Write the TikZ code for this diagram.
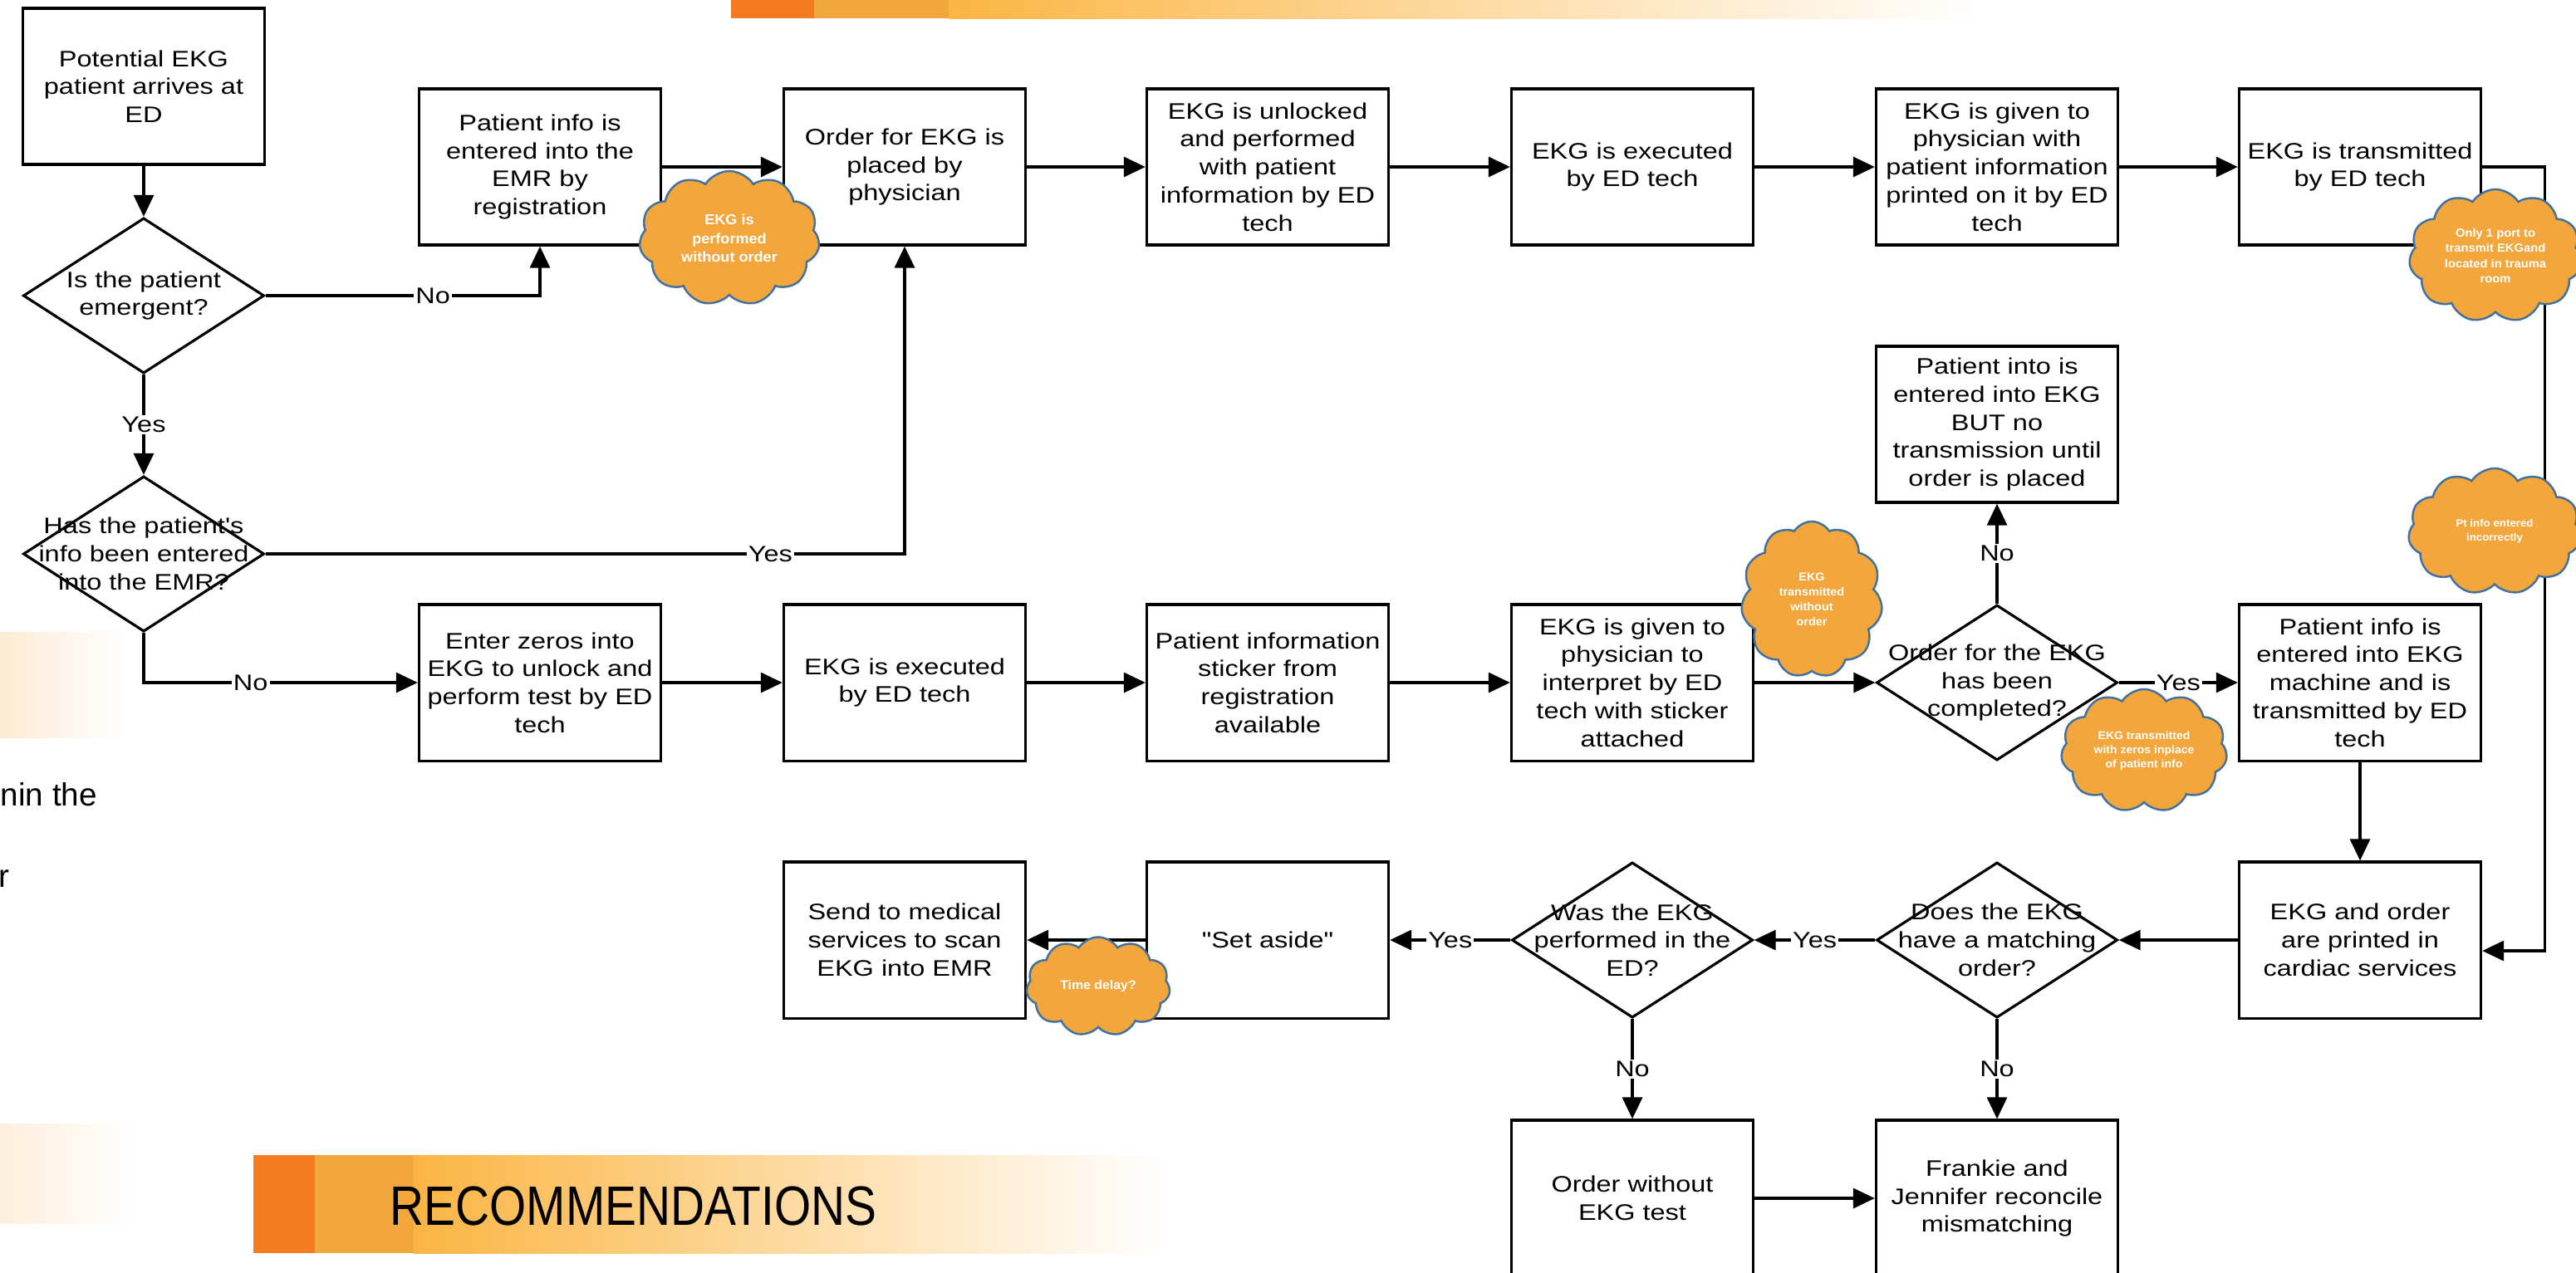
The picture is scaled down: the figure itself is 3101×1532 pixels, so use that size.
\documentclass[tikz,border=0pt]{standalone}
\usepackage{fontspec}
\setmainfont{Liberation Sans}
\newfontfamily\boxfont{Liberation Sans}[FakeStretch=1.2]
\newfontfamily\cloudfont{Liberation Sans}[FakeStretch=1.05]
\newfontfamily\recfont{Liberation Sans}[FakeStretch=0.85]
\usetikzlibrary{shapes.geometric,shapes.symbols,arrows.meta}
\definecolor{cloudfill}{HTML}{F3A63B}
\definecolor{cloudline}{HTML}{41719C}
\definecolor{orA}{HTML}{F47B20}
\definecolor{orB}{HTML}{F2A73C}
\definecolor{orC}{HTML}{FBB543}
\definecolor{peach}{HTML}{FDEBD3}
\tikzset{
  boxtext/.style={font=\boxfont\fontsize{7.7}{9.6}\selectfont},
  stepbox/.style={boxtext, draw, line width=0.9pt, minimum width=2.91cm, minimum height=1.88cm, align=center, inner sep=1pt},
  dia/.style={diamond, draw, line width=0.9pt, minimum width=2.9cm, minimum height=1.87cm, inner sep=0pt},
  dtxt/.style={boxtext, align=center, inner sep=0pt},
  arr/.style={-{Triangle[length=0.26cm,width=0.24cm]}, line width=0.9pt},
  lbl/.style={boxtext, fill=white, inner sep=0.6pt},
  cloudy/.style={cloud, cloud puffs=11, cloud puff arc=115, cloud ignores aspect, draw=cloudline, fill=cloudfill, line width=0.7pt, text=white, align=center, inner sep=0pt}
}
\begin{document}
\begin{tikzpicture}[x=0.01cm, y=-0.01cm]
\useasboundingbox (0,0) rectangle (3101,1532);
\clip (0,0) rectangle (3101,1532);
\fill[white] (0,0) rectangle (3101,1532);
% background slide elements
\fill[orA] (880,0) rectangle (980,22);
\fill[orB] (980,0) rectangle (1142,22);
\shade[left color=orC, right color=white] (1142,0) rectangle (2380,22);
\shade[left color=peach, right color=white] (0,761) rectangle (150,888);
\shade[left color=peach!80!white, right color=white] (0,1353) rectangle (165,1473);
\fill[orA] (305,1391) rectangle (379,1509);
\fill[orB] (379,1391) rectangle (498,1509);
\shade[left color=orC, right color=white] (498,1391) rectangle (1400,1509);
\node[anchor=west, font=\recfont\fontsize{19}{22}\selectfont, inner sep=0pt] (rec) at (469,1452) {RECOMMENDATIONS};
\node[anchor=base west, font=\fontsize{11}{13}\selectfont, inner sep=0pt] (frag1) at (0,970) {nin the};
\node[anchor=base west, font=\fontsize{11}{13}\selectfont, inner sep=0pt] (frag2) at (-2,1068) {r};

% row 1
\node[stepbox] (p0) at (173,104) {Potential EKG\\patient arrives at\\ED};
\node[stepbox] (p1) at (650,201) {Patient info is\\entered into the\\EMR by\\registration};
\node[stepbox] (p2) at (1089,201) {Order for EKG is\\placed by\\physician};
\node[stepbox] (p3) at (1526,201) {EKG is unlocked\\and performed\\with patient\\information by ED\\tech};
\node[stepbox] (p4) at (1965,201) {EKG is executed\\by ED tech};
\node[stepbox] (p5) at (2404,201) {EKG is given to\\physician with\\patient information\\printed on it by ED\\tech};
\node[stepbox] (p6) at (2841,201) {EKG is transmitted\\by ED tech};
% decisions left
\node[dia] (d1) at (173,356) {};
\node[dtxt] (d1t) at (d1) {Is the patient\\emergent?};
\node[dia] (d2) at (173,667) {};
\node[dtxt] (d2t) at (d2) {Has the patient's\\info been entered\\into the EMR?};
% extra box
\node[stepbox] (q7) at (2404,511) {Patient into is\\entered into EKG\\BUT no\\transmission until\\order is placed};
% row 2
\node[stepbox] (r1) at (650,822) {Enter zeros into\\EKG to unlock and\\perform test by ED\\tech};
\node[stepbox] (r2) at (1089,822) {EKG is executed\\by ED tech};
\node[stepbox] (r3) at (1526,822) {Patient information\\sticker from\\registration\\available};
\node[stepbox] (r4) at (1965,822) {EKG is given to\\physician to\\interpret by ED\\tech with sticker\\attached};
\node[dia] (d3) at (2404,822) {};
\node[dtxt] (d3t) at (d3) {Order for the EKG\\has been\\completed?};
\node[stepbox] (r6) at (2841,822) {Patient info is\\entered into EKG\\machine and is\\transmitted by ED\\tech};
% row 3
\node[stepbox] (s2) at (1089,1132) {Send to medical\\services to scan\\EKG into EMR};
\node[stepbox] (s3) at (1526,1132) {"Set aside"};
\node[dia] (d4) at (1965,1132) {};
\node[dtxt] (d4t) at (d4) {Was the EKG\\performed in the\\ED?};
\node[dia] (d5) at (2404,1132) {};
\node[dtxt] (d5t) at (d5) {Does the EKG\\have a matching\\order?};
\node[stepbox] (s6) at (2841,1132) {EKG and order\\are printed in\\cardiac services};
% row 4
\node[stepbox] (t4) at (1965,1443) {Order without\\EKG test};
\node[stepbox] (t5) at (2404,1443) {Frankie and\\Jennifer reconcile\\mismatching};

% connectors
\draw[arr] (p0.south) -- (d1.north);
\draw[arr] (d1.east) -- node[lbl, pos=0.61]{No} (d1.east -| p1.south) -- (p1.south);
\draw[arr] (p1.east) -- (p2.west);
\draw[arr] (d1.south) -- node[lbl]{Yes} (d2.north);
\draw[arr] (d2.east) -- node[lbl, pos=0.79]{Yes} (d2.east -| p2.south) -- (p2.south);
\draw[arr] (d2.south) -- (d2.south |- r1.west) -- node[lbl, pos=0.39]{No} (r1.west);
\draw[arr] (p2.east) -- (p3.west);
\draw[arr] (p3.east) -- (p4.west);
\draw[arr] (p4.east) -- (p5.west);
\draw[arr] (p5.east) -- (p6.west);
\draw[arr] (p6.east) -- ++(75,0) |- ([yshift=-0.13cm]s6.east);
\draw[arr] (r1.east) -- (r2.west);
\draw[arr] (r2.east) -- (r3.west);
\draw[arr] (r3.east) -- (r4.west);
\draw[arr] (r4.east) -- (d3.west);
\draw[arr] (d3.east) -- node[lbl]{Yes} (r6.west);
\draw[arr] (d3.north) -- node[lbl]{No} (q7.south);
\draw[arr] (r6.south) -- (s6.north);
\draw[arr] (s6.west) -- (d5.east);
\draw[arr] (d5.west) -- node[lbl]{Yes} (d4.east);
\draw[arr] (d4.west) -- node[lbl]{Yes} (s3.east);
\draw[arr] (s3.west) -- (s2.east);
\draw[arr] (d4.south) -- node[lbl]{No} (t4.north);
\draw[arr] (d5.south) -- node[lbl]{No} (t5.north);
\draw[arr] (t4.east) -- (t5.west);

% clouds
\node[cloudy, minimum width=2.17cm, minimum height=1.62cm, font=\cloudfont\bfseries\fontsize{4.9}{6.4}\selectfont] (c1) at (878,287) {EKG is\\performed\\without order};
\node[cloudy, minimum width=2.08cm, minimum height=1.60cm, font=\cloudfont\bfseries\fontsize{4.0}{5.2}\selectfont] (c2) at (3004,308) {Only 1 port to\\transmit EKGand\\located in trauma\\room};
\node[cloudy, minimum width=2.08cm, minimum height=1.52cm, font=\cloudfont\bfseries\fontsize{3.6}{4.9}\selectfont] (c3) at (3003,640) {Pt info entered\\incorrectly};
\node[cloudy, minimum width=1.70cm, minimum height=1.88cm, font=\cloudfont\bfseries\fontsize{3.9}{5.1}\selectfont] (c4) at (2181,722) {EKG\\transmitted\\without\\order};
\node[cloudy, minimum width=2.0cm, minimum height=1.48cm, font=\cloudfont\bfseries\fontsize{3.8}{4.7}\selectfont] (c5) at (2581,904) {EKG transmitted\\with zeros inplace\\of patient info};
\node[cloudy, minimum width=1.73cm, minimum height=1.19cm, font=\cloudfont\bfseries\fontsize{4.3}{5}\selectfont] (c6) at (1322,1188) {Time delay?};
\end{tikzpicture}
\end{document}
